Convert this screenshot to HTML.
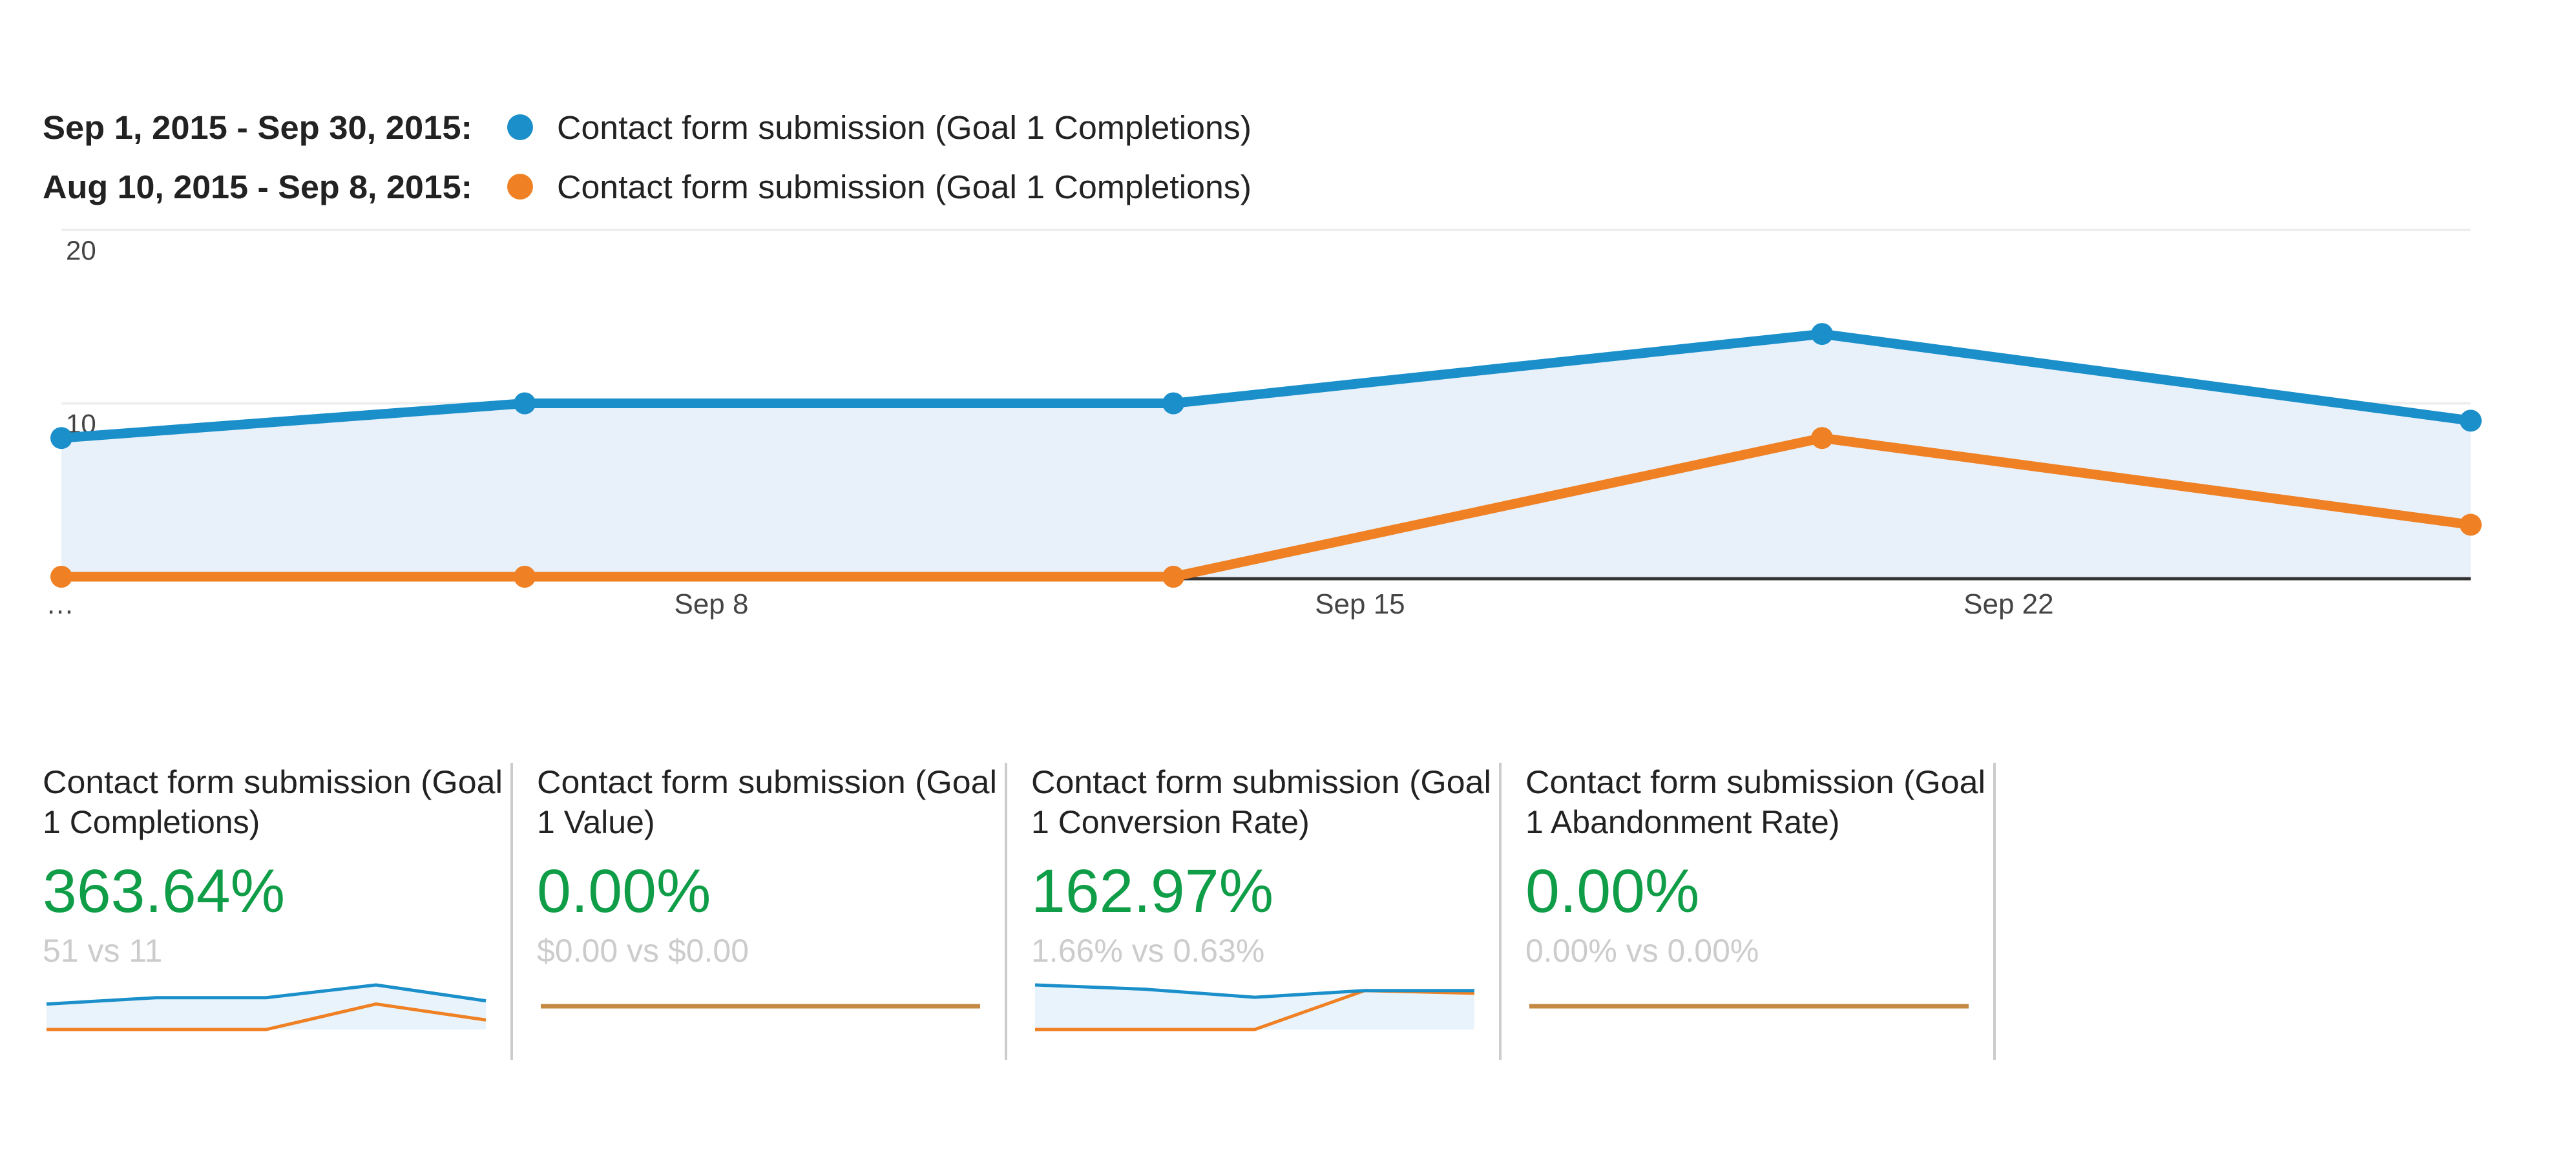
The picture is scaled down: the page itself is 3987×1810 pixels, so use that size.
<!DOCTYPE html>
<html><head><meta charset="utf-8"><style>
html,body{margin:0;padding:0;background:#fff;width:3987px;height:1810px;overflow:hidden;font-family:"Liberation Sans",Arial,sans-serif;}
svg{position:absolute;left:0;top:0}
</style></head><body>
<svg id="c" width="3987" height="1810" viewBox="0 0 3987 1810">
<g font-size="51" fill="#222">
 <g>
  <text x="66" y="215" font-weight="bold" textLength="665" lengthAdjust="spacingAndGlyphs">Sep 1, 2015 - Sep 30, 2015:</text>
  <circle cx="805" cy="197" r="20" fill="#1a8fca"/>
  <text x="862" y="215" textLength="1075" lengthAdjust="spacingAndGlyphs">Contact form submission (Goal 1 Completions)</text>
 </g>
 <g>
  <text x="66" y="307" font-weight="bold" textLength="665" lengthAdjust="spacingAndGlyphs">Aug 10, 2015 - Sep 8, 2015:</text>
  <circle cx="805" cy="289" r="20" fill="#ef8023"/>
  <text x="862" y="307" textLength="1075" lengthAdjust="spacingAndGlyphs">Contact form submission (Goal 1 Completions)</text>
 </g>
</g>
<g id="plot"></g>
<g id="cards"></g>
</svg>
<script>
const categories = ["Sep 1","Sep 6","Sep 13","Sep 20","Sep 27"];
const dayIndex = [0,5,12,19,26];
const currentValues = [8,10,10,14,9];
const previousValues = [0,0,0,8,3];
const yTicks = [10,20];
const xTickLabels = ["…","Sep 8","Sep 15","Sep 22"];
const xTickDays = [0,7,14,21];

const cardTitles1 = ["Contact form submission (Goal","Contact form submission (Goal","Contact form submission (Goal","Contact form submission (Goal"];
const cardTitles2 = ["1 Completions)","1 Value)","1 Conversion Rate)","1 Abandonment Rate)"];
const cardChanges = ["363.64%","0.00%","162.97%","0.00%"];
const cardCompare = ["51 vs 11","$0.00 vs $0.00","1.66% vs 0.63%","0.00% vs 0.00%"];
const sparkCurrent = [[8,10,10,14,9],[0,0,0,0,0],[1.66,1.5,1.2,1.45,1.45],[0,0,0,0,0]];
const sparkPrevious = [[0,0,0,8,3],[0,0,0,0,0],[0,0,0,1.45,1.35],[0,0,0,0,0]];

const NS="http://www.w3.org/2000/svg";
function mk(tag,attrs,parent){const e=document.createElementNS(NS,tag);for(const k in attrs)e.setAttribute(k,attrs[k]);parent.appendChild(e);return e;}
const plot=document.getElementById('plot');
const X0=95,X1=3824,Y0=893,YTOP=356,YMAX=20,DAYS=26;
const xs=d=>X0+(X1-X0)*d/DAYS;
const ys=v=>Y0-(Y0-YTOP)*v/YMAX;

yTicks.forEach(t=>{
 const l=mk('line',{x1:X0,x2:X1,y1:ys(t),y2:ys(t),stroke:'#eeeeee','stroke-width':4},plot);
 
 
});
let pts=currentValues.map((v,i)=>xs(dayIndex[i])+','+ys(v)).join(' ');
const area=mk('polygon',{points:xs(dayIndex[0])+','+Y0+' '+pts+' '+xs(dayIndex[dayIndex.length-1])+','+Y0,fill:'#e8f0f9'},plot);


yTicks.forEach(t=>{
 const tx=mk('text',{x:102,y:ys(t)+46,'font-size':42,fill:'#444'},plot);
 tx.textContent=t;
 
 
});
const bl=mk('line',{x1:X0,x2:X1,y1:Y0+3,y2:Y0+3,stroke:'#333','stroke-width':5},plot);


xTickLabels.forEach((s,i)=>{
 const tx=mk('text',{x:i==0?X0-24:xs(xTickDays[i])+2,y:950,'font-size':44,fill:'#444','text-anchor':i==0?'start':'middle'},plot);
 tx.textContent=s;
 
 
});
function series(vals,color,name){
 const p=vals.map((v,i)=>xs(dayIndex[i])+','+ys(v)).join(' ');
 const pl=mk('polyline',{points:p,fill:'none',stroke:color,'stroke-width':15,'stroke-linejoin':'round'},plot);
 
 
 vals.forEach((v,i)=>{
  const c=mk('circle',{cx:xs(dayIndex[i]),cy:ys(v),r:17,fill:color},plot);
  
  
 });
}
series(previousValues,'#ef8023','previous');
series(currentValues,'#1a8fca','current');

const cards=document.getElementById('cards');
const CW=765;
cardChanges.forEach((c,i)=>{
 const g=mk('g',{},cards);
 
 
 const x=66+CW*i;
 const t1=mk('text',{x:x,y:1228,'font-size':50,fill:'#222',textLength:712,lengthAdjust:'spacingAndGlyphs'},g);t1.textContent=cardTitles1[i];
 
 
 const t2=mk('text',{x:x,y:1290,'font-size':50,fill:'#222'},g);t2.textContent=cardTitles2[i];
 
 
 const t3=mk('text',{x:x,y:1412,'font-size':95,fill:'#109d48'},g);t3.textContent=c;
 
 
 const t4=mk('text',{x:x,y:1489,'font-size':50,fill:'#cccccc'},g);t4.textContent=cardCompare[i];
 
 
 const dv=mk('line',{x1:792+CW*i,x2:792+CW*i,y1:1181,y2:1641,stroke:'#cccccc','stroke-width':4},g);
 
 
 const sx0=x+6,sx1=x+686,sy0=1594,sy1=1525;
 const cur=sparkCurrent[i],prev=sparkPrevious[i];
 const mx=Math.max(...cur,...prev);
 const sxs=d=>sx0+(sx1-sx0)*d/(cur.length-1);
 const sys=v=>mx>0?sy0-(sy0-sy1)*v/mx:1558;
 if(mx>0){
  const ap=sx0+','+sy0+' '+cur.map((v,k)=>sxs(k)+','+sys(v)).join(' ')+' '+sx1+','+sy0;
  const a=mk('polygon',{points:ap,fill:'#e8f3fb'},g);
  
  
  const pp=mk('polyline',{points:prev.map((v,k)=>sxs(k)+','+sys(v)).join(' '),fill:'none',stroke:'#ef8023','stroke-width':5},g);
  
  
  const cp=mk('polyline',{points:cur.map((v,k)=>sxs(k)+','+sys(v)).join(' '),fill:'none',stroke:'#1a8fca','stroke-width':5},g);
  
  
 } else {
  const fl=mk('line',{x1:sx0,x2:sx1,y1:1558,y2:1558,stroke:'#c48a42','stroke-width':7},g);
  
  
 }
});
</script>
</body></html>
